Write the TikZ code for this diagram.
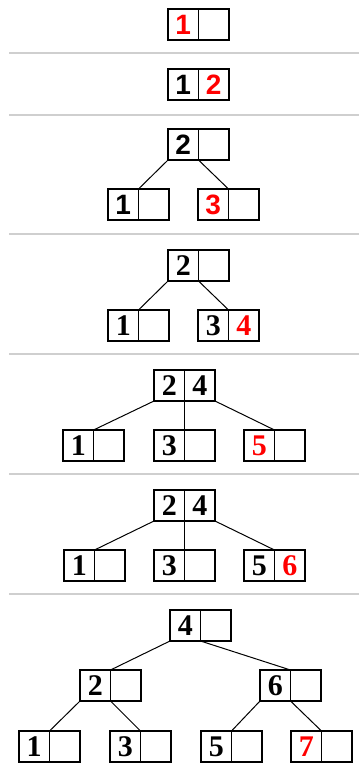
\documentclass[tikz,border=0pt]{standalone}
\usepackage{fontspec}
\setmainfont{Liberation Serif}
\newfontfamily\digsans{Liberation Sans}
\usetikzlibrary{positioning}
\definecolor{csep}{HTML}{cfcfcf}
\definecolor{cnew}{HTML}{ff0000}
\newcommand{\inserted}[1]{\textcolor{cnew}{#1}}
% one B-tree node = two key cells side by side
\newcommand{\keybox}[5][cell]{%
  \node[#1,anchor=north west] (#2a) at (#3) {#4};
  \node[#1,right=0pt of #2a] (#2b) {#5};}

\begin{document}
\begin{tikzpicture}[x=1pt,y=-1pt,
  cell/.style={draw,line width=1.5pt,minimum width=30.5pt,minimum height=31pt,
    inner sep=0pt,outer sep=0pt,font=\fontsize{30}{30}\selectfont\bfseries},
  scell/.style={cell,font=\fontsize{28}{28}\selectfont\digsans\bfseries},
  sep/.style={csep,line width=2pt},
  edge/.style={line width=1pt}]
  \useasboundingbox (0,0) rectangle (359,763);
  % step 1
  \keybox[scell]{s1}{168,9}{\inserted{1}}{}
  \draw[sep] (9,53) -- (359,53);
  % step 2
  \keybox[scell]{s2}{168,69}{1}{\inserted{2}}
  \draw[sep] (9,115) -- (359,115);
  % step 3
  \keybox[scell]{s3r}{168,129}{2}{}
  \keybox[scell]{s3l}{108,189}{1}{}
  \keybox[scell]{s3m}{198,189}{\inserted{3}}{}
  \draw[edge] (s3ra.south west) -- (s3la.north east);
  \draw[edge] (s3ra.south east) -- (s3ma.north east);
  \draw[sep] (9,234) -- (359,234);
  % step 4
  \keybox{s4r}{168,250}{2}{}
  \keybox{s4l}{108,310}{1}{}
  \keybox{s4m}{198,310}{3}{\inserted{4}}
  \draw[edge] (s4ra.south west) -- (s4la.north east);
  \draw[edge] (s4ra.south east) -- (s4ma.north east);
  \draw[sep] (9,354) -- (359,354);
  % step 5
  \keybox{s5r}{154,370}{2}{4}
  \keybox{s5l}{63,430}{1}{}
  \keybox{s5m}{154,430}{3}{}
  \keybox{s5n}{244,430}{\inserted{5}}{}
  \draw[edge] (s5ra.south west) -- (s5la.north east);
  \draw[edge] (s5ra.south east) -- (s5ma.north east);
  \draw[edge] (s5rb.south east) -- (s5na.north east);
  \draw[sep] (9,474) -- (359,474);
  % step 6
  \keybox{s6r}{154,490}{2}{4}
  \keybox{s6l}{64,550}{1}{}
  \keybox{s6m}{154,550}{3}{}
  \keybox{s6n}{244,550}{5}{\inserted{6}}
  \draw[edge] (s6ra.south west) -- (s6la.north east);
  \draw[edge] (s6ra.south east) -- (s6ma.north east);
  \draw[edge] (s6rb.south east) -- (s6na.north east);
  \draw[sep] (9,594) -- (359,594);
  % step 7
  \keybox{s7r}{170,610}{4}{}
  \keybox{s7p}{80,670}{2}{}
  \keybox{s7q}{260,670}{6}{}
  \keybox{s7a}{19,731}{1}{}
  \keybox{s7b}{110,731}{3}{}
  \keybox{s7c}{201,731}{5}{}
  \keybox{s7d}{291,731}{\inserted{7}}{}
  \draw[edge] (s7ra.south west) -- (s7pa.north east);
  \draw[edge] (s7ra.south east) -- (s7qa.north east);
  \draw[edge] (s7pa.south west) -- (s7aa.north east);
  \draw[edge] (s7pa.south east) -- (s7ba.north east);
  \draw[edge] (s7qa.south west) -- (s7ca.north east);
  \draw[edge] (s7qa.south east) -- (s7da.north east);
\end{tikzpicture}
\end{document}
